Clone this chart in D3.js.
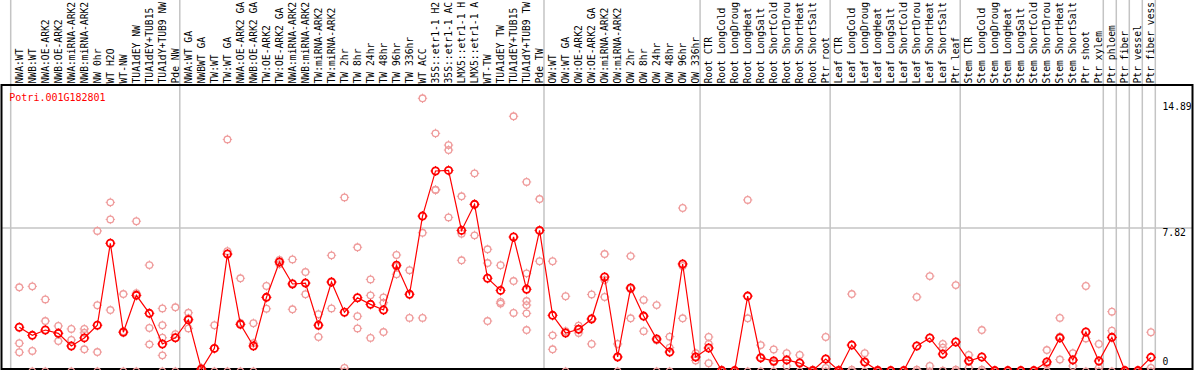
<!DOCTYPE html>
<html>
<head>
<meta charset="utf-8">
<script src="https://cdn.jsdelivr.net/npm/d3@7"></script>
<style>
  html, body { margin: 0; padding: 0; background: #fff; }
  svg { display: block; }
  text { font-family: "DejaVu Sans Mono", monospace; font-size: 9.7px; }
</style>
</head>
<body>
<svg id="chart" width="1194" height="370"></svg>
<script>
// ---------------- DATA ----------------
const geneName = "Potri.001G182801";

const samples = [
  "NWA:WT", "NWB:WT", "NWA:OE-ARK2", "NWB:OE-ARK2", "NWA:miRNA-ARK2", "NWB:miRNA-ARK2",
  "NW 0hr", "WT H2O", "WT-NW", "TUA1dEY NW", "TUA1dEY+TUB15", "TUA1dY+TUB9 NW", "Pde NW",
  "NWA:WT GA", "NWBWT GA", "TW:WT", "TW:WT GA", "NWA:OE-ARK2 GA", "NWB:OE-ARK2 GA",
  "TW:OE-ARK2", "TW:OE-ARK2 GA", "NWA:miRNA-ARK2", "NWB:miRNA-ARK2", "TW:miRNA-ARK2",
  "TW:miRNA-ARK2", "TW 2hr", "TW 8hr", "TW 24hr", "TW 48hr", "TW 96hr", "TW 336hr",
  "WT ACC", "35S::etr1-1 H2O", "35S::etr1-1 ACC", "LMX5::etr1-1 H2O", "LMX5::etr1-1 ACC",
  "WT-TW", "TUA1dEY TW", "TUA1dEY+TUB15 TW", "TUA1dY+TUB9 TW", "Pde TW",
  "OW:WT", "OW:WT GA", "OW:OE-ARK2", "OW:OE-ARK2 GA", "OW:miRNA-ARK2", "OW:miRNA-ARK2",
  "OW 2hr", "OW 8hr", "OW 24hr", "OW 48hr", "OW 96hr", "OW 336hr",
  "Root CTR", "Root LongCold", "Root LongDrought", "Root LongHeat", "Root LongSalt",
  "Root ShortCold", "Root ShortDrought", "Root ShortHeat", "Root ShortSalt", "Ptr root",
  "Leaf CTR", "Leaf LongCold", "Leaf LongDrought", "Leaf LongHeat", "Leaf LongSalt",
  "Leaf ShortCold", "Leaf ShortDrought", "Leaf ShortHeat", "Leaf ShortSalt", "Ptr leaf",
  "Stem CTR", "Stem LongCold", "Stem LongDrought", "Stem LongHeat", "Stem LongSalt",
  "Stem ShortCold", "Stem ShortDrought", "Stem ShortHeat", "Stem ShortSalt", "Ptr shoot",
  "Ptr xylem", "Ptr phloem", "Ptr fiber", "Ptr vessel", "Ptr fiber vessel"
];

// index of the sample after which a separator line is drawn
const groupBreaks = [13, 41, 53, 63, 73, 84, 85, 86, 87, 88];

const means = [
  2.41, 1.97, 2.26, 2.08, 1.39, 1.83, 2.52, 6.99, 2.14, 4.15, 3.17, 1.50, 1.84,
  2.82, 0.12, 1.26, 6.40, 2.57, 1.39, 4.04, 5.97, 4.77, 4.82, 2.52, 4.88, 3.23,
  4.02, 3.66, 3.35, 5.79, 4.21, 8.47, 10.93, 10.96, 7.69, 9.11, 5.08, 4.42, 7.33,
  4.48, 7.69,
  3.06, 2.10, 2.30, 2.86, 5.15, 0.79, 4.55, 3.02, 1.77, 1.06, 5.86, 0.79,
  1.28, 0.05, 0.05, 4.11, 0.74, 0.57, 0.63, 0.46, 0.05, 0.68,
  0.05, 1.44, 0.52, 0.05, 0.05, 0.05, 1.39, 1.83, 0.95, 1.61,
  0.57, 0.79, 0.05, 0.05, 0.05, 0.05, 0.52, 1.83, 0.63, 2.15, 0.57,
  1.86, 0.05, 0.05, 0.77
];

const replicates = [
  [4.59, 1.54, 1.05], [4.64, 1.12, 0], [3.93, 2.75, 0], [2.48, 2.09, 1.66],
  [2.32, 1.72, 0], [2.32, 2.11, 1.21], [7.66, 3.61, 1.06, 0], [9.22, 8.29, 3.35],
  [4.22, 2.19, 0], [8.19, 4.27, 0], [5.80, 2.37, 1.48], [3.44, 2.52, 1.84, 0.88, 0],
  [3.50, 2.03, 0],
  [3.20, 2.90, 2.35], [0.2, 0.1, 0], [2.52, 1.26, 0], [12.65, 6.56, 0], [5.08, 2.64, 0],
  [2.63, 1.54, 0], [4.66, 4.04, 3.42], [6.08, 5.97, 5.85], [6.11, 4.81, 3.39],
  [5.42, 4.82, 4.21], [3.12, 2.55, 1.88], [6.33, 4.86, 3.44], [9.49, 0.19, 0],
  [6.77, 3.01, 2.35], [5.02, 4.15, 1.83], [4.04, 3.75, 2.15], [6.35, 5.72, 5.30],
  [5.52, 4.19, 2.92], [14.89, 7.56, 2.92], [12.98, 9.89, 9.91], [12.34, 12.07, 8.40],
  [9.55, 7.51, 6.06], [10.80, 9.11, 7.42], [6.66, 5.91, 2.75], [5.79, 3.79, 3.70],
  [13.91, 4.93, 3.19], [10.33, 5.35, 3.84, 3.62, 3.17, 2.26], [9.40, 7.67, 6.01],
  [6.01, 1.97, 1.21], [4.10, 2.20, 0], [2.5, 2.3, 2.1], [4.2, 2.9, 1.5],
  [6.40, 4.99, 4.06], [1.5, 0.8, 0], [6.29, 4.5, 2.9], [3.9, 3.0, 2.2],
  [3.62, 1.7, 0], [1.9, 1.3, 0], [8.91, 5.75, 2.9], [1.0, 0.8, 0.6],
  [1.88, 1.5, 0.45], [0.1, 0, 0], [0, 0, 0], [9.35, 2.9, 0], [1.44, 0.78, 0],
  [1.2, 0.5, 0], [1.0, 0.6, 0.3], [0.9, 0.5, 0], [0.1, 0, 0], [1.88, 0.2, 0],
  [0.1, 0, 0], [4.22, 0.1, 0], [1.0, 0.5, 0], [0.1, 0, 0], [0, 0, 0], [0, 0, 0],
  [4.06, 0.1, 0], [5.20, 0.3, 0], [1.5, 1.3, 0.05], [4.71, 0.1, 0],
  [0.9, 0.6, 0.2], [2.26, 0.1, 0], [0, 0, 0], [0, 0, 0], [0, 0, 0], [0, 0, 0],
  [1.17, 0.4, 0], [2.92, 1.9, 0.65], [1.0, 0.6, 0.3], [4.66, 1.8, 0], [1.5, 0.2, 0],
  [3.26, 2.22, 0], [0, 0, 0], [0, 0, 0], [2.14, 0.2, 0]
];

const yTicks = [0, 7.82, 14.89];

// ---------------- DRAW ----------------
const svg = d3.select("#chart");
const width = +svg.attr("width");
const height = +svg.attr("height");

const frameTop = 85;
const frameBottom = 369;
const maxChars = 14; // labels are cut like in the original viewer

const x = d3.scaleBand()
  .domain(d3.range(samples.length))
  .range([10.7, 10.7 + 13.007 * samples.length])
  .padding(0);
const cx = i => x(i) + 8.6;

const y = d3.scaleLinear()
  .domain([0, 14.89])
  .range([371.5, 98.3]);

// gray grid lines
svg.append("line")
  .attr("x1", 2).attr("x2", width - 2)
  .attr("y1", y(7.82)).attr("y2", y(7.82))
  .attr("stroke", "#c4c4c4").attr("stroke-width", 1.5);

svg.append("line")
  .attr("x1", x(0)).attr("x2", x(0))
  .attr("y1", 0).attr("y2", frameBottom)
  .attr("stroke", "#c4c4c4").attr("stroke-width", 1.5);

svg.selectAll(".sep")
  .data(groupBreaks)
  .enter()
  .append("line")
    .attr("x1", d => x(0) + x.step() * d)
    .attr("x2", d => x(0) + x.step() * d)
    .attr("y1", 0).attr("y2", frameBottom)
    .attr("stroke", "#c4c4c4").attr("stroke-width", 1.5);

// frame
svg.append("rect")
  .attr("x", 1.5).attr("y", frameTop)
  .attr("width", width - 3).attr("height", frameBottom - frameTop)
  .attr("fill", "none")
  .attr("stroke", "#000").attr("stroke-width", 2);

// sample labels
svg.selectAll(".lbl")
  .data(samples)
  .enter()
  .append("text")
    .attr("transform", (d, i) => `translate(${cx(i) + 3.5}, 83.5) rotate(-90)`)
    .attr("fill", "#000")
    .text(d => d.slice(0, maxChars));

// gene name
svg.append("text")
  .attr("x", 9.3).attr("y", 100.5)
  .attr("fill", "#f00")
  .style("font-size", "10px")
  .text(geneName);

// y labels
svg.selectAll(".ytick")
  .data(yTicks)
  .enter()
  .append("text")
    .attr("x", 1162.5)
    .attr("y", d => Math.max(110, Math.min(365, y(d) + 8)))
    .attr("fill", "#000")
    .text(d => d);

// circle with small ticks
function marker(g, px, py, r, color, sw) {
  g.append("circle")
    .attr("cx", px).attr("cy", py).attr("r", r)
    .attr("fill", "none").attr("stroke", color).attr("stroke-width", sw);
  const t = r + 1.4;
  [[0, -1], [0, 1], [-1, 0], [1, 0]].forEach(([dx, dy]) => {
    g.append("line")
      .attr("x1", px + dx * (r - 0.3)).attr("y1", py + dy * (r - 0.3))
      .attr("x2", px + dx * t).attr("y2", py + dy * t)
      .attr("stroke", color).attr("stroke-width", 1);
  });
}

const plot = svg.append("g");

// replicates
const repG = plot.append("g");
replicates.forEach((vals, i) => {
  vals.forEach(v => marker(repG, cx(i), y(v), 3.3, "#ef9c9c", 1.3));
});

// mean line
plot.append("path")
  .datum(means)
  .attr("fill", "none")
  .attr("stroke", "#f00")
  .attr("stroke-width", 1.2)
  .attr("d", d3.line().x((d, i) => cx(i)).y(d => y(d)));

// means
const meanG = plot.append("g");
means.forEach((v, i) => marker(meanG, cx(i), y(v), 3.6, "#f00", 1.8));
</script>
</body>
</html>
